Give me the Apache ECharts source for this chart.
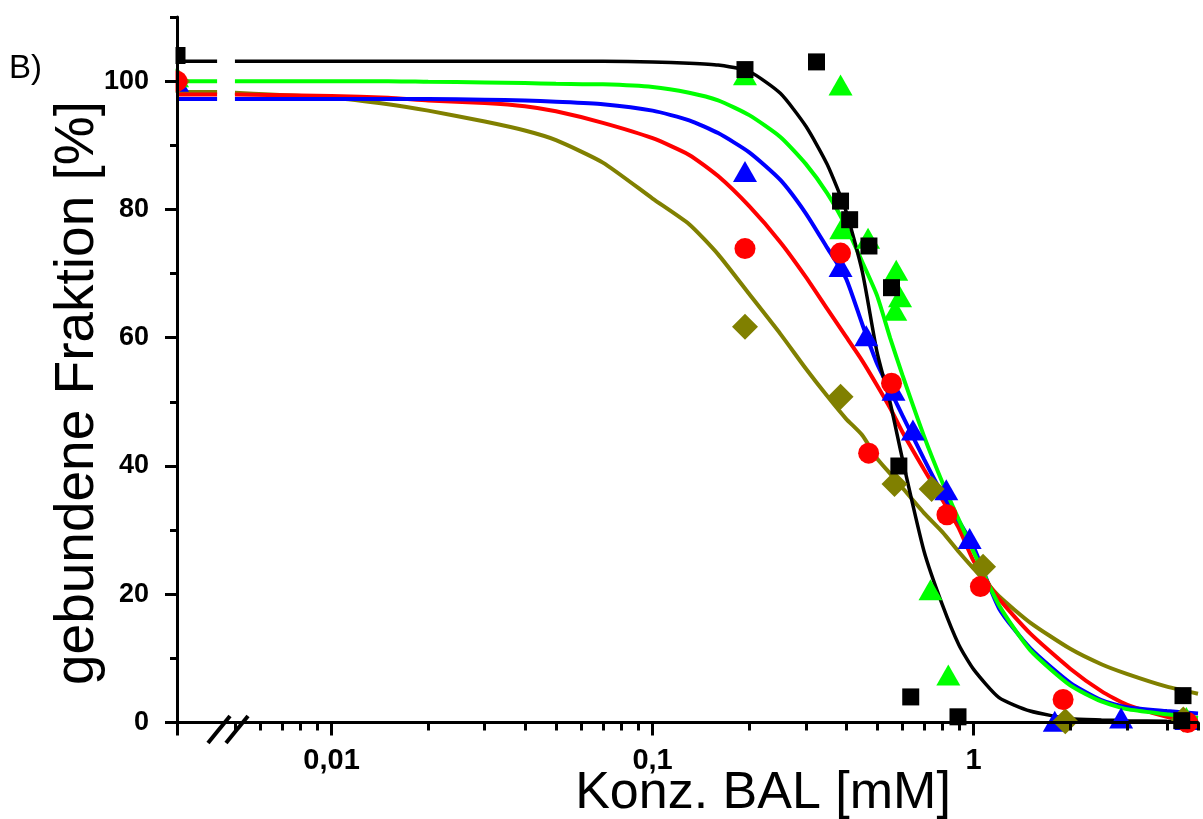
<!DOCTYPE html>
<html>
<head>
<meta charset="utf-8">
<script src="https://cdn.jsdelivr.net/npm/echarts@6/dist/echarts.min.js"></script>
<style>html,body{margin:0;padding:0;background:#fff;}#chart{width:1203px;height:819px;}</style>
</head>
<body>
<div id="chart"></div>
<script>
// ---- data ----
const curveX = [0.0033, 0.0044, 0.005, 0.01, 0.015, 0.02, 0.03, 0.04, 0.05, 0.07, 0.1, 0.13, 0.16, 0.2, 0.25, 0.3, 0.35, 0.4, 0.45, 0.5, 0.55, 0.6, 0.7, 0.8, 0.9, 1, 1.2, 1.5, 2, 2.5, 3, 4, 5];
const breakX = 0.0047;
const fitBlack = [103.1,103.1,103.1,103.1,103.1,103.1,103.1,103.1,103.1,103.1,103.0,102.8,102.5,101.5,98.1,93.0,87.0,79.8,70.3,57.8,49.8,41.1,26.8,18.3,12.1,8.3,3.9,1.8,0.6,0.4,0.3,0.2,0.15];
const fitGreen = [100.0,100.0,100.0,100.0,100.0,99.9,99.8,99.7,99.6,99.5,99.1,98.2,97.0,94.7,91.3,87.1,82.5,77.4,71.8,66.6,59.9,54.2,44.7,37.4,31.6,26.6,18.3,11.3,5.8,3.3,2.1,1.3,0.7];
const fitBlue = [97.2,97.2,97.2,97.2,97.2,97.2,97.1,97.0,96.8,96.4,95.4,93.9,91.9,88.9,84.6,79.4,74.0,69.3,62.1,56.0,51.8,47.9,41.1,35.6,31.4,27.4,17.8,11.6,6.2,3.5,2.4,1.8,1.4];
const fitRed = [97.9,97.9,97.9,97.7,97.4,97.0,96.6,96.1,95.3,93.5,91.1,88.5,85.2,80.5,74.9,69.5,64.5,60.2,56.4,52.6,49.0,45.3,39.5,34.7,30.3,25.2,19.3,13.9,8.4,4.9,2.8,0.9,0.1];
const fitOlive = [98.3,98.3,98.2,97.4,96.4,95.4,93.7,92.3,90.8,87.3,81.7,77.7,73.0,66.8,60.6,55.2,50.9,47.4,44.8,41.2,38.8,36.6,32.7,29.7,26.6,24.0,19.7,15.6,11.5,9.1,7.6,5.6,4.5];

const ptsBlack = [[0.0033,104.0],[0.194,101.8],[0.324,103.0],[0.385,81.3],[0.411,78.4],[0.472,74.3],[0.555,67.8],[0.585,40.0],[0.637,4.0],[0.894,0.9],[4.49,4.2],[4.45,0.3]];
const ptsGreen = [[0.0033,100.7],[0.194,101.0],[0.385,99.4],[0.387,77.0],[0.469,75.5],[0.574,70.5],[0.59,66.4],[0.57,64.3],[0.734,20.7],[0.834,7.4],[4.6,0.8]];
const ptsBlue = [[0.0033,100.0],[0.194,85.9],[0.385,71.1],[0.463,60.3],[0.563,51.8],[0.647,45.6],[0.822,36.3],[0.972,28.7],[1.79,0.2],[2.88,0.7],[4.6,0.5]];
const ptsRed = [[0.0033,100.0],[0.194,73.9],[0.385,73.2],[0.555,52.9],[0.471,42.0],[0.826,32.4],[1.05,21.2],[1.90,3.6],[4.64,0.0]];
const ptsOlive = [[0.0033,100.0],[0.194,61.7],[0.385,50.8],[0.567,37.2],[0.74,36.4],[1.07,24.3],[1.93,0.2],[4.5,0.5]];

const xMajorTicks = [0.0033, 0.01, 0.1, 1];
const xMinorTicks = [0.005,0.006,0.007,0.008,0.009,0.02,0.03,0.04,0.05,0.06,0.07,0.08,0.09,0.2,0.3,0.4,0.5,0.6,0.7,0.8,0.9,2,3,4,5];
const xLabels = [0.01, 0.1, 1];
const yMajorTicks = [0, 20, 40, 60, 80, 100];
const yMinorTicks = [10, 30, 50, 70, 90, 110];

const xTitle = 'Konz. BAL [mM]';
const yTitle = 'gebundene Fraktion [%]';
const panelLabel = 'B)';

// ---- build ----
function curve(ys) {
  const d = curveX.map((x, i) => [x, ys[i]]);
  d.splice(2, 0, [breakX, '-']);
  return d;
}
const lineSeries = (name, ys, color, w) => ({
  name, type: 'line', data: curve(ys), showSymbol: false, symbol: 'none',
  smooth: 0.2, connectNulls: false, z: 2,
  lineStyle: { color, width: w }
});
const scatterSeries = (name, pts, color, symbol, size, z) => ({
  name, type: 'scatter', data: pts, symbol, symbolSize: size, z,
  itemStyle: { color, opacity: 1 }
});

const chart = echarts.init(document.getElementById('chart'), null, { renderer: 'canvas' });
const axisLineStyle = { color: '#000', width: 3 };
const tickStyle = { color: '#000', width: 3 };
const FONT = 'Liberation Sans';
chart.setOption({
  animation: false,
  backgroundColor: '#fff',
  grid: { left: 177, right: 5, top: 17, bottom: 90, containLabel: false },
  xAxis: [
    { type: 'log', logBase: 10, min: 0.0033, max: 5, position: 'bottom', z: 6,
      axisLine: { show: true, lineStyle: axisLineStyle },
      axisTick: { show: true, customValues: xMajorTicks, length: 13, lineStyle: tickStyle },
      minorTick: { show: false },
      axisLabel: { show: true, customValues: xLabels, margin: 17, color: '#000', fontSize: 29, fontWeight: 'bold', fontFamily: FONT,
        formatter: v => String(v).replace('.', ',') },
      splitLine: { show: false } },
    { type: 'log', logBase: 10, min: 0.0033, max: 5, position: 'bottom', z: 6, gridIndex: 0,
      axisLine: { show: false },
      axisTick: { show: true, customValues: xMinorTicks, length: 8, lineStyle: tickStyle },
      axisLabel: { show: false },
      splitLine: { show: false } }
  ],
  yAxis: [
    { type: 'value', min: -1, max: 110, z: 6,
      axisLine: { show: true, lineStyle: axisLineStyle },
      axisTick: { show: true, customValues: yMajorTicks, length: 12, lineStyle: tickStyle },
      axisLabel: { show: true, customValues: yMajorTicks, margin: 28, color: '#000', fontSize: 27, fontWeight: 'bold', fontFamily: FONT },
      splitLine: { show: false } },
    { type: 'value', min: -1, max: 110, z: 6, position: 'left', offset: 0,
      axisLine: { show: false },
      axisTick: { show: true, customValues: yMinorTicks, length: 7, lineStyle: tickStyle },
      axisLabel: { show: false },
      splitLine: { show: false } }
  ],
  graphic: [
    { type: 'rect', z: 5, shape: { x: 140, y: 30, width: 35.5, height: 90 }, style: { fill: '#fff' } },
    { type: 'line', z: 7, shape: { x1: 208, y1: 743, x2: 230, y2: 716 }, style: { stroke: '#000', lineWidth: 4 } },
    { type: 'line', z: 7, shape: { x1: 226, y1: 743, x2: 248, y2: 716 }, style: { stroke: '#000', lineWidth: 4 } },
    { type: 'text', z: 7, style: { text: panelLabel, x: 9, y: 69, textVerticalAlign: 'middle', fontSize: 33, fontFamily: FONT, fill: '#000' } },
    { type: 'text', z: 7, style: { text: xTitle, x: 763, y: 794, textAlign: 'center', textVerticalAlign: 'middle', fontSize: 52, fontFamily: FONT, fill: '#000' } },
    { type: 'text', z: 7, x: 78, y: 393, rotation: Math.PI / 2, style: { text: yTitle, x: 0, y: 0, textAlign: 'center', textVerticalAlign: 'middle', fontSize: 55, fontFamily: FONT, fill: '#000' } }
  ],
  series: [
    lineSeries('fitOlive', fitOlive, '#808000', 4),
    lineSeries('fitRed', fitRed, '#ff0000', 4),
    lineSeries('fitBlue', fitBlue, '#0000ff', 4),
    lineSeries('fitGreen', fitGreen, '#00ff00', 4),
    lineSeries('fitBlack', fitBlack, '#000000', 3.5),
    scatterSeries('blue', ptsBlue, '#0000ff', 'triangle', [24, 21], 3),
    scatterSeries('green', ptsGreen, '#00ff00', 'triangle', [24, 21], 3),
    scatterSeries('olive', ptsOlive, '#808000', 'diamond', [26, 26], 3),
    scatterSeries('red', ptsRed, '#ff0000', 'circle', 21, 3),
    scatterSeries('black', ptsBlack, '#000000', 'rect', 17, 3)
  ]
});
</script>
</body>
</html>
